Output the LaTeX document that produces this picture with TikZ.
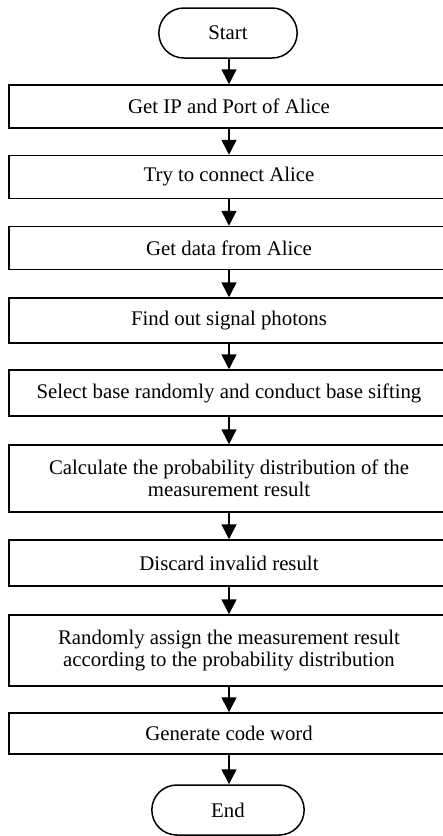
\documentclass[tikz,border=0pt]{standalone}
\usepackage{fontspec}
\setmainfont{Liberation Serif}
\usepackage{tikz}
\usetikzlibrary{arrows.meta,shapes.misc}

\tikzset{
    stepbox/.style={draw, line width=1.5pt, rectangle, minimum width=440pt, minimum height=43pt, align=center, inner sep=2pt},
    termbox/.style={draw, line width=1.5pt, rounded rectangle, minimum height=50pt, align=center},
    flow/.style={line width=1.5pt, -{Triangle[width=15pt,length=15pt]}}
}

\begin{document}
\begin{tikzpicture}[x=1pt, y=1pt, font=\fontsize{20.8}{22.5}\selectfont]
        % Fix the page size and cut off what lies outside
        \useasboundingbox (0,0) rectangle (443,-836);
        \clip (0,0) rectangle (443,-836);

        % Draw the start and end
        \node[termbox, minimum width=145pt] (start) at (228,-33) {Start};
        \node[termbox, minimum width=159pt] (end) at (228,-810) {End};

        % Draw the steps
        \node[stepbox] (ip) at (229,-106.5) {Get IP and Port of Alice};
        \node[stepbox] (connect) at (229,-177) {Try to connect Alice};
        \node[stepbox] (data) at (229,-248) {Get data from Alice};
        \node[stepbox, minimum height=45pt] (photons) at (229,-320.5) {Find out signal photons};
        \node[stepbox, minimum height=46pt] (sift) at (229,-393) {Select base randomly and conduct base sifting};
        \node[stepbox, minimum height=67pt] (calc) at (229,-478.5) {Calculate the probability distribution of the\\ measurement result};
        \node[stepbox, minimum height=46pt] (discard) at (229,-563) {Discard invalid result};
        \node[stepbox, minimum height=71pt] (assign) at (229,-650.5) {Randomly assign the measurement result\\ according to the probability distribution};
        \node[stepbox, minimum height=41pt] (code) at (229,-733.5) {Generate code word};

        % Draw the arrows between them
        \draw[flow] (start.south -| ip.north) -- (ip.north);
        \draw[flow] (ip) -- (connect);
        \draw[flow] (connect) -- (data);
        \draw[flow] (data) -- (photons);
        \draw[flow] (photons) -- (sift);
        \draw[flow] (sift) -- (calc);
        \draw[flow] (calc) -- (discard);
        \draw[flow] (discard) -- (assign);
        \draw[flow] (assign) -- (code);
        \draw[flow] (code.south) -- (end.north -| code.south);
        \end{tikzpicture}
\end{document}
